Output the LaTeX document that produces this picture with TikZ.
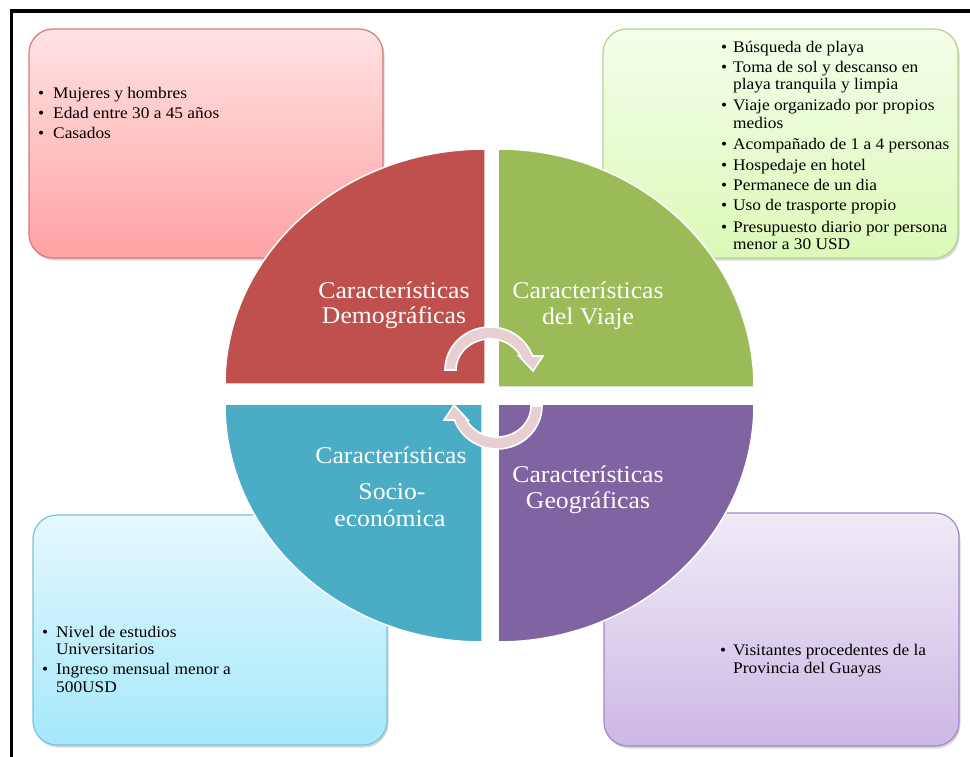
\documentclass[tikz,border=0pt]{standalone}
\usepackage{fontspec}
\setmainfont{Liberation Serif}[FakeStretch=1.07]
\usetikzlibrary{calc,shadows}
\definecolor{qred}{HTML}{C0504D}
\definecolor{qgreen}{HTML}{9BBB59}
\definecolor{qteal}{HTML}{4BACC6}
\definecolor{qpurple}{HTML}{8064A2}
\definecolor{rtop}{HTML}{FFE3E4}
\definecolor{rbot}{HTML}{FFA2A2}
\definecolor{rbord}{HTML}{D27C7B}
\definecolor{gtop}{HTML}{F4FEEA}
\definecolor{gbot}{HTML}{DCF9B8}
\definecolor{gbord}{HTML}{B4D48C}
\definecolor{btop}{HTML}{E5F8FE}
\definecolor{bbot}{HTML}{A5E8FB}
\definecolor{bbord}{HTML}{7CC2D7}
\definecolor{ptop}{HTML}{F0EBF7}
\definecolor{pbot}{HTML}{CCB8E5}
\definecolor{pbord}{HTML}{A08AC4}
\definecolor{arrfill}{HTML}{E8D0D2}
\begin{document}
\begin{tikzpicture}[x=1pt,y=-1pt,
  infobox/.style={rounded corners=24pt, line width=1.2pt,
    drop shadow={opacity=0.3, shadow xshift=1.5pt, shadow yshift=-2.5pt}},
  quad/.style={draw=white, line width=1.5pt},
  qlabel/.style={text=white, font=\fontsize{24}{26}\selectfont, inner sep=0pt, anchor=base},
  btext/.style={text=black, font=\fontsize{16.2}{17}\selectfont, inner sep=0pt, anchor=base west},
  bul/.style={btext},
  cyc/.style={fill=arrfill, draw=white, line width=1.6pt, line join=miter}]
\fill[white] (0,0) rectangle (970,757);
\useasboundingbox (0,0) rectangle (970,757);
% frame
\draw[black, line width=3.6pt] (11.5,760) -- (11.5,11) -- (975,11);
% boxes
\path[infobox, draw=rbord, top color=rtop, bottom color=rbot] (29,29) rectangle (383,258);
\path[infobox, draw=gbord, top color=gtop, bottom color=gbot] (603,29) rectangle (958,258);
\path[infobox, draw=bbord, top color=btop, bottom color=bbot] (33,515) rectangle (387,745);
\path[infobox, draw=pbord, top color=ptop, bottom color=pbot] (604,513) rectangle (959,746);
% quadrants
\path[quad, fill=qred] (485,384) -- (225,384) arc[start angle=180, end angle=270, x radius=260, y radius=235] -- cycle;
\path[quad, fill=qgreen] (498,387) -- (498,149) arc[start angle=270, end angle=360, x radius=256, y radius=238] -- cycle;
\path[quad, fill=qteal] (482,404) -- (225,404) arc[start angle=180, end angle=90, x radius=257, y radius=238] -- cycle;
\path[quad, fill=qpurple] (498,404) -- (754,404) arc[start angle=0, end angle=90, x radius=256, y radius=238] -- cycle;
% quadrant labels
\node[qlabel] (rl1) at (394,298) {Características};
\node[qlabel] (rl2) at (394,323) {Demográficas};
\node[qlabel] (gl1) at (588,298) {Características};
\node[qlabel] (gl2) at (588,324) {del Viaje};
\node[qlabel] (tl1) at (391,463) {Características};
\node[qlabel] (tl2) at (392,499) {Socio-};
\node[qlabel] (tl3) at (390,526) {económica};
\node[qlabel] (pl1) at (588,482) {Características};
\node[qlabel] (pl2) at (588,508) {Geográficas};
% central cycle arrows
\path[cyc] (445,370) arc[start angle=180, end angle=341, x radius=45, y radius=43]
  -- (543,356) -- (533,371) -- (519,356)
  -- (520.35,356) arc[start angle=333.2, end angle=180, x radius=34, y radius=31] -- cycle;
\path[cyc] (542,406) arc[start angle=0, end angle=161, x radius=45, y radius=43]
  -- (444,420) -- (454,405) -- (468,420)
  -- (466.65,420) arc[start angle=153.2, end angle=0, x radius=34, y radius=31] -- cycle;
% red box text
\foreach \yy/\bb/\txt [count=\i] in {99/1/Mujeres y hombres, 119/1/Edad entre 30 a 45 años, 139/1/Casados}{
  \node[btext] (rt\i) at (53,\yy) {\txt};
  \ifnum\bb=1 \node[bul] (rb\i) at (38,\yy) {\textbullet};\fi
}
% green box text
\foreach \yy/\bb/\txt [count=\i] in {53/1/Búsqueda de playa, 73/1/Toma de sol y descanso en, 90/0/playa tranquila y limpia, 111/1/Viaje organizado por propios, 129/0/medios, 150/1/Acompañado de 1 a 4 personas, 171/1/Hospedaje en hotel, 191/1/Permanece  de un dia, 211/1/Uso de trasporte propio, 233/1/Presupuesto diario por persona, 250/0/menor a 30 USD}{
  \node[btext] (gt\i) at (733,\yy) {\txt};
  \ifnum\bb=1 \node[bul] (gb\i) at (721,\yy) {\textbullet};\fi
}
% blue box text
\foreach \yy/\bb/\txt [count=\i] in {637/1/Nivel de estudios, 654/0/Universitarios, 674/1/Ingreso mensual menor a, 692/0/500USD}{
  \node[btext] (bt\i) at (56,\yy) {\txt};
  \ifnum\bb=1 \node[bul] (bb\i) at (42,\yy) {\textbullet};\fi
}
% purple box text
\foreach \yy/\bb/\txt [count=\i] in {655/1/Visitantes procedentes de la, 673/0/Provincia del Guayas}{
  \node[btext] (pt\i) at (733,\yy) {\txt};
  \ifnum\bb=1 \node[bul] (pb\i) at (720,\yy) {\textbullet};\fi
}
\end{tikzpicture}
\end{document}
